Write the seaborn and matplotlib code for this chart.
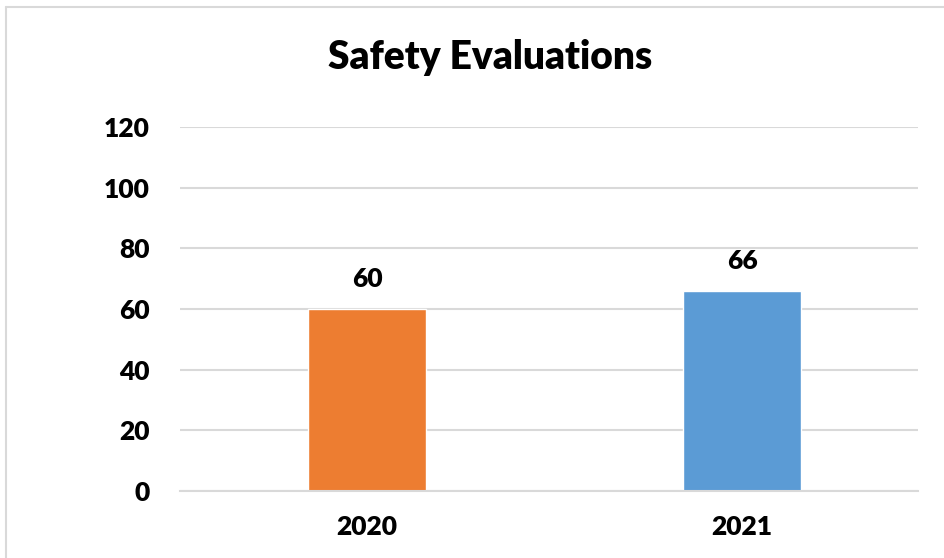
import matplotlib
matplotlib.use("Agg")
import matplotlib.pyplot as plt
import seaborn as sns
import pandas as pd
from matplotlib.lines import Line2D

# chart data
years = ["2020", "2021"]
evaluations = [60, 66]
bar_colors = ["#ED7D31", "#5B9BD5"]
y_ticks = [0, 20, 40, 60, 80, 100, 120]

df = pd.DataFrame({"year": years, "evaluations": evaluations})

sns.set_style("white")
plt.rcParams["font.family"] = ["Lato", "DejaVu Sans"]
plt.rcParams["font.weight"] = "heavy"
plt.rcParams["text.color"] = "black"
plt.rcParams["xtick.color"] = "black"
plt.rcParams["ytick.color"] = "black"

fig = plt.figure(figsize=(9.45, 5.58), dpi=100)
ax = fig.add_axes([180 / 945, 1 - 491 / 558, 738 / 945, 364 / 558])

sns.barplot(
    data=df,
    x="year",
    y="evaluations",
    hue="year",
    palette=bar_colors,
    width=0.315,
    legend=False,
    saturation=1,
    ax=ax,
    zorder=3,
)

for cont in ax.containers:
    ax.bar_label(cont, padding=13, fontsize=19, fontweight="heavy", color="black")

ax.set_ylim(0, 120)
ax.set_xlim(-0.4987, 1.469)
ax.set_yticks(y_ticks)
ax.yaxis.grid(True, color="#D9D9D9", linewidth=1.5, zorder=0)
ax.tick_params(axis="y", length=0, pad=22, labelsize=19, labelcolor="black")
ax.tick_params(axis="x", length=0, pad=17, labelsize=19, labelcolor="black")
for lab in ax.get_xticklabels() + ax.get_yticklabels():
    lab.set_fontweight("heavy")
ax.set_xlabel("")
ax.set_ylabel("")
for side in ["top", "right", "left"]:
    ax.spines[side].set_visible(False)
ax.spines["bottom"].set_color("#D9D9D9")
ax.spines["bottom"].set_linewidth(1.5)
ax.spines["bottom"].set_zorder(4)

fig.text(490 / 945, 1 - 57 / 558, "Safety Evaluations", ha="center", va="center",
         fontsize=28, fontweight="heavy", color="black")

# light frame around the chart area
fig.add_artist(Line2D([6.5 / 945, 6.5 / 945], [0, 1 - 6.5 / 558], color="#D9D9D9", linewidth=1.5))
fig.add_artist(Line2D([6.5 / 945, 1], [1 - 6.5 / 558, 1 - 6.5 / 558], color="#D9D9D9", linewidth=1.5))

fig.savefig("out.png", dpi=100)
